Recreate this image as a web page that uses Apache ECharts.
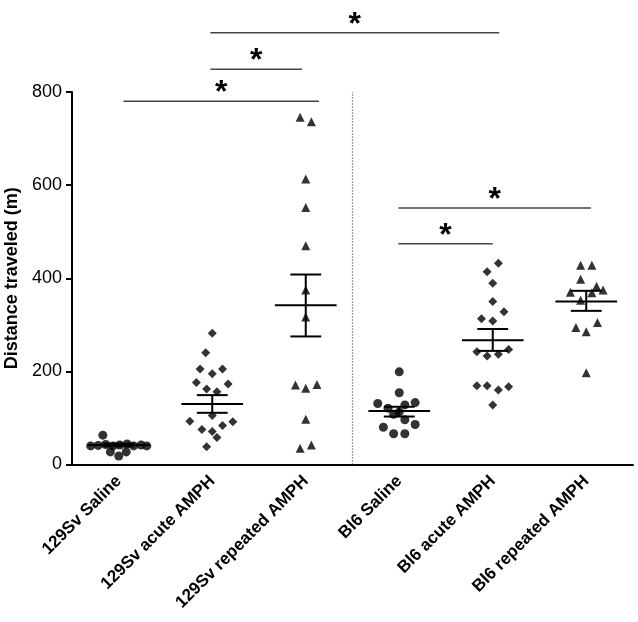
<!DOCTYPE html>
<html>
<head>
<meta charset="utf-8">
<script src="https://cdn.jsdelivr.net/npm/echarts@6/dist/echarts.min.js"></script>
<style>
html,body{margin:0;padding:0;background:#fff;}
#chart{width:638px;height:622px;}
</style>
</head>
<body>
<div id="chart"></div>
<script>
// ---- data ----
const categories = ['129Sv Saline', '129Sv acute AMPH', '129Sv repeated AMPH', 'Bl6 Saline', 'Bl6 acute AMPH', 'Bl6 repeated AMPH'];
const yTicks = [0, 200, 400, 600, 800];

// [offset within group, value]
const sv129Saline = [[-0.17,63],[-0.30,40],[-0.22,41],[-0.14,43],[-0.06,40],[0.01,42],[0.09,44],[0.16,40],[0.24,42],[0.30,40],[-0.09,27],[0.08,27],[0.0,18]];
const sv129Acute = [[0.0,282],[-0.07,240],[-0.13,205],[0.11,205],[0.0,195],[-0.17,176],[-0.06,162],[0.05,156],[0.17,173],[-0.24,93],[0.0,105],[0.22,92],[0.11,84],[-0.11,75],[0.0,71],[0.05,58],[-0.06,38]];
const sv129Repeated = [[-0.06,746],[0.06,736],[0.0,613],[0.0,552],[0.0,470],[0.0,375],[0.0,317],[-0.11,171],[0.0,164],[0.12,172],[0.0,97],[-0.06,35],[0.06,42]];
const bl6Saline = [[0.0,199],[0.0,154],[-0.23,131],[0.06,128],[0.17,133],[-0.12,121],[-0.06,108],[0.0,113],[0.06,96],[0.17,86],[-0.17,80],[-0.06,66],[0.06,66]];
const bl6Acute = [[0.06,432],[-0.06,414],[0.0,389],[0.0,350],[0.12,328],[-0.12,313],[0.0,308],[-0.17,242],[-0.06,233],[0.06,237],[0.17,247],[-0.17,169],[-0.06,169],[0.06,160],[0.17,167],[0.0,128]];
const bl6Repeated = [[-0.06,428],[0.06,428],[-0.06,398],[0.11,383],[0.18,375],[-0.17,370],[0.06,369],[-0.06,353],[0.12,305],[-0.11,294],[0.0,285],[0.0,197]];

// mean and SEM
const means = [42, 130, 342, 115, 267, 350];
const semLow = [39, 111, 275, 103, 244, 330];
const semHigh = [45, 149, 408, 124, 291, 373];

// significance brackets: [from x, to x, y value]
const sigBrackets = [[0.05, 2.14, 780], [0.98, 1.96, 849], [0.98, 4.07, 927], [2.99, 5.05, 551], [2.99, 4.0, 474]];

// ---- chart ----
const groups = [sv129Saline, sv129Acute, sv129Repeated, bl6Saline, bl6Acute, bl6Repeated];
const symbols = ['circle', 'diamond', 'triangle', 'circle', 'diamond', 'triangle'];
const sizes = [9, 9, 9, 9, 9, 9];

const chart = echarts.init(document.getElementById('chart'), null, {renderer: 'canvas'});
const font = '"Liberation Sans", Arial, sans-serif';

const series = groups.map((g, i) => ({
  type: 'scatter',
  xAxisIndex: 1,
  yAxisIndex: 0,
  symbol: symbols[i],
  symbolSize: sizes[i],
  itemStyle: {color: '#000'},
  data: g.map(p => [i + p[0], p[1]]),
  silent: true,
  z: 3
}));

series[0].markLine = {
  silent: true,
  symbol: 'none',
  label: {show: false},
  lineStyle: {type: [1, 2], color: '#444', width: 1.2},
  data: [{xAxis: 2.5}]
};

series.push({
  type: 'custom',
  xAxisIndex: 1,
  yAxisIndex: 0,
  z: 4,
  silent: true,
  data: means.map((m, i) => [i, m, semLow[i], semHigh[i]]),
  renderItem: function (params, api) {
    const x = api.value(0), m = api.value(1), lo = api.value(2), hi = api.value(3);
    const a = api.coord([x - 0.33, m]), b = api.coord([x + 0.33, m]);
    const c1 = api.coord([x - 0.165, lo]), c2 = api.coord([x + 0.165, lo]);
    const d1 = api.coord([x - 0.165, hi]), d2 = api.coord([x + 0.165, hi]);
    const v1 = api.coord([x, lo]), v2 = api.coord([x, hi]);
    const st = {stroke: '#000', lineWidth: 2};
    return {
      type: 'group',
      children: [
        {type: 'line', shape: {x1: a[0], y1: a[1], x2: b[0], y2: b[1]}, style: st},
        {type: 'line', shape: {x1: c1[0], y1: c1[1], x2: c2[0], y2: c2[1]}, style: st},
        {type: 'line', shape: {x1: d1[0], y1: d1[1], x2: d2[0], y2: d2[1]}, style: st},
        {type: 'line', shape: {x1: v1[0], y1: v1[1], x2: v2[0], y2: v2[1]}, style: st}
      ]
    };
  }
});

series.push({
  type: 'custom',
  xAxisIndex: 1,
  yAxisIndex: 0,
  clip: false,
  silent: true,
  z: 5,
  data: sigBrackets,
  renderItem: function (params, api) {
    const p1 = api.coord([api.value(0), api.value(2)]);
    const p2 = api.coord([api.value(1), api.value(2)]);
    return {
      type: 'group',
      children: [
        {type: 'line', shape: {x1: p1[0], y1: p1[1], x2: p2[0], y2: p2[1]}, style: {stroke: '#444', lineWidth: 1.5}},
        {type: 'text', x: (p1[0] + p2[0]) / 2, y: p1[1] - 8,
          style: {text: '*', fill: '#000', font: 'bold 32px ' + font, textAlign: 'center', textVerticalAlign: 'middle'}}
      ]
    };
  }
});

chart.setOption({
  animation: false,
  backgroundColor: '#fff',
  grid: {left: 72, right: 5, top: 92, bottom: 157.5, containLabel: false, outerBoundsMode: 'none'},
  xAxis: [
    {
      type: 'category',
      data: categories,
      boundaryGap: true,
      axisLine: {onZero: false, lineStyle: {color: '#000', width: 2}},
      axisTick: {alignWithLabel: true, length: 7, lineStyle: {color: '#000', width: 2}},
      axisLabel: {rotate: 45, interval: 0, margin: 14, color: '#000', fontSize: 17, fontWeight: 'bold', fontFamily: font},
      splitLine: {show: false}
    },
    {
      type: 'value',
      min: -0.5,
      max: 5.5,
      show: false
    }
  ],
  yAxis: [{
    type: 'value',
    min: 0,
    max: 800,
    interval: 200,
    name: 'Distance traveled (m)',
    nameLocation: 'middle',
    nameGap: 44,
    nameTextStyle: {color: '#000', fontSize: 18, fontWeight: 'bold', fontFamily: font},
    axisLine: {show: true, onZero: false, lineStyle: {color: '#000', width: 2}},
    axisTick: {show: true, length: 6, lineStyle: {color: '#000', width: 2}},
    axisLabel: {color: '#000', fontSize: 18, fontFamily: font, margin: 10, formatter: v => (yTicks.indexOf(v) >= 0 ? String(v) : '')},
    splitLine: {show: false}
  }],
  series: series
});
</script>
</body>
</html>
